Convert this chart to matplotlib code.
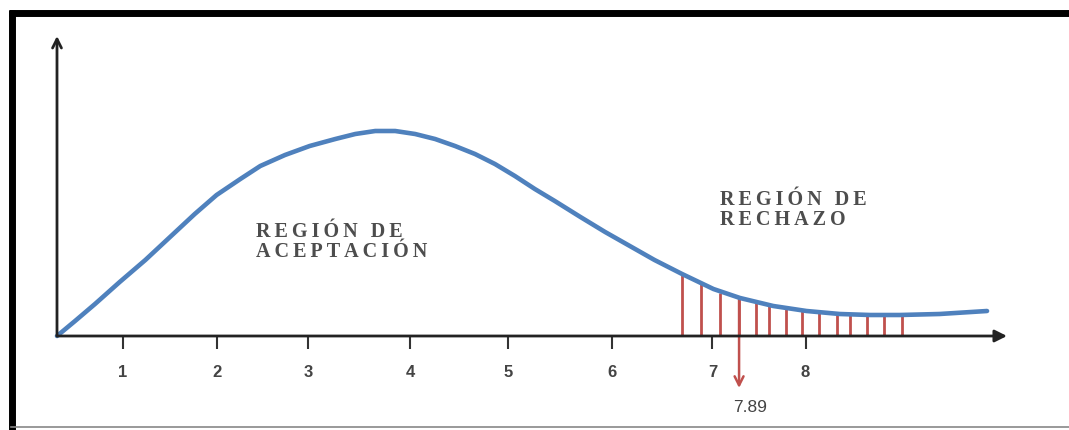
import numpy as np
import matplotlib.pyplot as plt
from matplotlib.patches import FancyArrowPatch

# curva (unidades de eje)
curve_x = [0.0, 0.19, 0.40, 0.66, 0.93, 1.19, 1.45, 1.68, 1.93, 2.14, 2.40, 2.66,
           2.93, 3.14, 3.35, 3.56, 3.77, 3.98, 4.19, 4.40, 4.61, 4.82, 5.03, 5.24,
           5.51, 5.77, 6.03, 6.29, 6.58, 6.91, 7.19, 7.54, 7.89, 8.24, 8.56, 8.87,
           9.29, 9.79]
curve_y = [0.0, 0.15, 0.32, 0.54, 0.76, 0.99, 1.22, 1.41, 1.57, 1.70, 1.81, 1.90,
           1.97, 2.02, 2.05, 2.05, 2.02, 1.97, 1.90, 1.82, 1.72, 1.60, 1.47, 1.35,
           1.19, 1.04, 0.90, 0.76, 0.62, 0.47, 0.38, 0.30, 0.25, 0.22, 0.21, 0.21,
           0.22, 0.25]

# lineas de la region de rechazo
reject_x = [6.58, 6.78, 6.98, 7.18, 7.36, 7.50, 7.67, 7.84, 8.02, 8.21, 8.35,
            8.53, 8.71, 8.90]
reject_y = [0.62, 0.52, 0.43, 0.38, 0.34, 0.31, 0.28, 0.255, 0.24, 0.22, 0.215,
            0.21, 0.21, 0.21]

tick_pos = [0.69, 1.68, 2.64, 3.72, 4.75, 5.84, 6.9, 7.88]
tick_labels = ['1', '2', '3', '4', '5', '6', '7', '8']

crit_x = 7.18
crit_label = '7.89'


def spaced(s):
    # letras separadas como en el dibujo
    return '\n'.join('\u2009'.join(line) for line in s.split('\n'))


fig = plt.figure(figsize=(10.69, 4.31), dpi=100)
ax = fig.add_axes([0, 0, 1, 1])
ax.set_xlim(-0.6, 10.653)
ax.set_ylim(-0.94, 3.37)
ax.axis('off')

# marco
fig.add_artist(plt.Line2D([0.0085, 1.0], [1 - 14 / 431, 1 - 14 / 431], color='black', lw=5,
                          solid_capstyle='butt'))
fig.add_artist(plt.Line2D([11.5 / 1069, 11.5 / 1069], [1 - 11 / 431, 0], color='black', lw=5,
                          solid_capstyle='butt'))
fig.add_artist(plt.Line2D([0.01, 1.0], [3 / 431, 3 / 431], color='#888888', lw=1.2))

# lineas rojas
ax.vlines(reject_x, 0, reject_y, color='#c0504d', lw=2, zorder=2)

# curva
ax.plot(curve_x, curve_y, color='#4f81bd', lw=3.3, solid_joinstyle='round',
        solid_capstyle='round', zorder=3)

# ejes
ax.add_patch(FancyArrowPatch((0, 0), (10.0, 0), arrowstyle='-|>', mutation_scale=18,
                             color='#222222', lw=2, zorder=4, shrinkA=0, shrinkB=0))
ax.add_patch(FancyArrowPatch((0, 0), (0, 3.0), arrowstyle='->', mutation_scale=16,
                             color='#222222', lw=2, zorder=4, shrinkA=0, shrinkB=0))

# marcas
ax.vlines(tick_pos, -0.13, 0, color='#333333', lw=1.5)
for p, t in zip(tick_pos, tick_labels):
    ax.text(p, -0.36, t, ha='center', va='center', fontsize=12, color='#444444',
            family='Liberation Sans', fontweight='bold')

# valor critico
ax.add_patch(FancyArrowPatch((crit_x, 0.38), (crit_x, -0.52), arrowstyle='->',
                             mutation_scale=16, color='#c0504d', lw=1.8, zorder=2,
                             shrinkA=0, shrinkB=0))
ax.text(crit_x + 0.12, -0.71, crit_label, ha='center', va='center', fontsize=12.5,
        color='#444444', family='Liberation Sans')

# textos de region
ax.text(2.1, 0.95, spaced('REGIÓN DE\nACEPTACIÓN'), ha='left', va='center', fontsize=14.5,
        family=['Liberation Serif', 'DejaVu Serif'], fontweight='bold', color='#4d4d4d',
        linespacing=0.95)
ax.text(6.98, 1.27, spaced('REGIÓN DE\nRECHAZO'), ha='left', va='center', fontsize=14.5,
        family=['Liberation Serif', 'DejaVu Serif'], fontweight='bold', color='#4d4d4d',
        linespacing=0.95)

fig.savefig('out.png', dpi=100)
